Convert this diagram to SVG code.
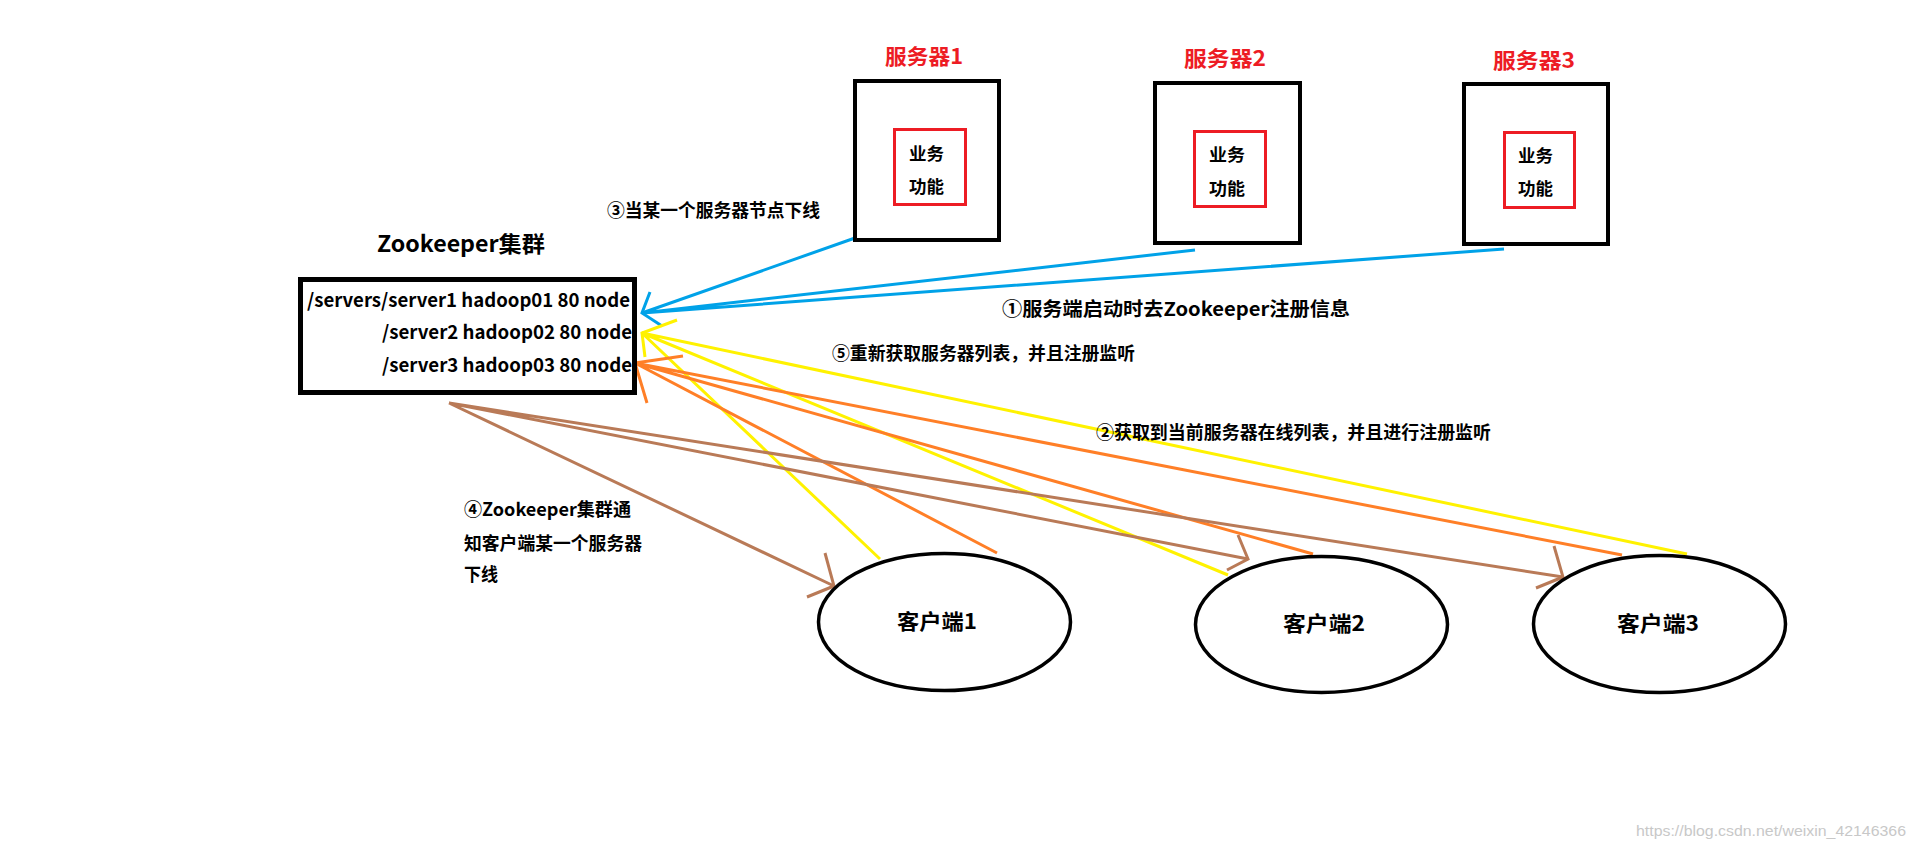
<svg xmlns="http://www.w3.org/2000/svg" width="1914" height="849" viewBox="0 0 1914 849">
<style>
.t{font-family:"Microsoft YaHei","Noto Sans CJK SC","Noto Sans",sans-serif;font-weight:bold;fill:#000}
.red{fill:#ed1c24}
.box{fill:none;stroke:#000;stroke-width:4}
.inner{fill:none;stroke:#ed1c24;stroke-width:3}
.ell{fill:#fff;stroke:#000;stroke-width:3.5}
.c{fill:none;stroke-width:3;stroke-linecap:butt;stroke-linejoin:miter}
.blue{stroke:#00a2e8}
.yel{stroke:#fff200}
.ora{stroke:#ff7f27}
.brn{stroke:#b97a57}
</style>
<rect width="1914" height="849" fill="#fff"/>

<g id="connectors">
  <!-- blue: servers register -->
  <path class="c blue" d="M855,238 L642,313 M1195,250 L642,313 M1504,249 L642,313"/>
  <path class="c blue" d="M650,292 L642,313 L662,326"/>
  <!-- yellow: fetch list -->
  <path class="c yel" d="M880,559 L642,333 M1228,575 L642,333 M1687,554 L642,333"/>
  <path class="c yel" d="M677,320 L642,333 L645,357"/>
  <!-- orange: register watch -->
  <path class="c ora" d="M997,553 L635,363 M1313,554 L635,363 M1622,555 L635,363"/>
  <path class="c ora" d="M683,356 L635,363 L647,403"/>
  <!-- brown: notify clients -->
  <path class="c brn" d="M449,403 L834,586 M449,403 L1248,559 M449,403 L1563,577"/>
  <path class="c brn" d="M825,553 L834,586 L807,597"/>
  <path class="c brn" d="M1238,535 L1248,559 L1227,570"/>
  <path class="c brn" d="M1554,546 L1563,577 L1536,588"/>
</g>

<g id="zookeeper">
  <text class="t" x="377" y="252" font-size="22" textLength="168" lengthAdjust="spacingAndGlyphs">Zookeeper集群</text>
  <rect x="300.5" y="279.5" width="334" height="113" fill="none" stroke="#000" stroke-width="5"/>
  <text class="t" x="307" y="307" font-size="19" textLength="323" lengthAdjust="spacingAndGlyphs">/servers/server1 hadoop01 80 node</text>
  <text class="t" x="382" y="339" font-size="19" textLength="250" lengthAdjust="spacingAndGlyphs">/server2 hadoop02 80 node</text>
  <text class="t" x="382" y="372" font-size="19" textLength="250" lengthAdjust="spacingAndGlyphs">/server3 hadoop03 80 node</text>
</g>

<g id="server1">
  <text class="t red" x="885" y="64" font-size="21" textLength="78" lengthAdjust="spacingAndGlyphs">服务器1</text>
  <rect class="box" x="855" y="81" width="144" height="159"/>
  <rect class="inner" x="894.5" y="129.5" width="71" height="75"/>
  <text class="t" x="909" y="160" font-size="17" textLength="35" lengthAdjust="spacingAndGlyphs">业务</text>
  <text class="t" x="909" y="193" font-size="17" textLength="35" lengthAdjust="spacingAndGlyphs">功能</text>
</g>

<g id="server2">
  <text class="t red" x="1184" y="66" font-size="21" textLength="82" lengthAdjust="spacingAndGlyphs">服务器2</text>
  <rect class="box" x="1155" y="83" width="145" height="160"/>
  <rect class="inner" x="1194.5" y="131.5" width="71" height="75"/>
  <text class="t" x="1209" y="161" font-size="17" textLength="36" lengthAdjust="spacingAndGlyphs">业务</text>
  <text class="t" x="1209" y="195" font-size="17" textLength="36" lengthAdjust="spacingAndGlyphs">功能</text>
</g>

<g id="server3">
  <text class="t red" x="1493" y="68" font-size="21" textLength="82" lengthAdjust="spacingAndGlyphs">服务器3</text>
  <rect class="box" x="1464" y="84" width="144" height="160"/>
  <rect class="inner" x="1504.5" y="132.5" width="70" height="75"/>
  <text class="t" x="1518" y="162" font-size="17" textLength="35" lengthAdjust="spacingAndGlyphs">业务</text>
  <text class="t" x="1518" y="195" font-size="17" textLength="35" lengthAdjust="spacingAndGlyphs">功能</text>
</g>

<g id="client1">
  <ellipse class="ell" cx="944.5" cy="622" rx="126" ry="68.5"/>
  <text class="t" x="897" y="629" font-size="21" textLength="80" lengthAdjust="spacingAndGlyphs">客户端1</text>
</g>
<g id="client2">
  <ellipse class="ell" cx="1321.5" cy="624.5" rx="126" ry="68"/>
  <text class="t" x="1283" y="631" font-size="21" textLength="82" lengthAdjust="spacingAndGlyphs">客户端2</text>
</g>
<g id="client3">
  <ellipse class="ell" cx="1659.5" cy="624" rx="126" ry="68.5"/>
  <text class="t" x="1617" y="631" font-size="21" textLength="82" lengthAdjust="spacingAndGlyphs">客户端3</text>
</g>

<g id="labels">
  <text class="t" x="607" y="217" font-size="18" textLength="213" lengthAdjust="spacingAndGlyphs">③当某一个服务器节点下线</text>
  <text class="t" x="1002" y="316" font-size="19" textLength="348" lengthAdjust="spacingAndGlyphs">①服务端启动时去Zookeeper注册信息</text>
  <text class="t" x="832" y="360" font-size="18" textLength="303" lengthAdjust="spacingAndGlyphs">⑤重新获取服务器列表，并且注册监听</text>
  <text class="t" x="1096" y="439" font-size="18" textLength="395" lengthAdjust="spacingAndGlyphs">②获取到当前服务器在线列表，并且进行注册监听</text>
  <text class="t" x="464" y="516" font-size="18" textLength="167" lengthAdjust="spacingAndGlyphs">④Zookeeper集群通</text>
  <text class="t" x="464" y="550" font-size="18" textLength="178" lengthAdjust="spacingAndGlyphs">知客户端某一个服务器</text>
  <text class="t" x="464" y="581" font-size="18" textLength="34" lengthAdjust="spacingAndGlyphs">下线</text>
</g>

<text x="1636" y="836" font-family="'Liberation Sans',Arial,sans-serif" font-size="14" fill="#c8c8c8" textLength="270" lengthAdjust="spacingAndGlyphs">https://blog.csdn.net/weixin_42146366</text>
</svg>
